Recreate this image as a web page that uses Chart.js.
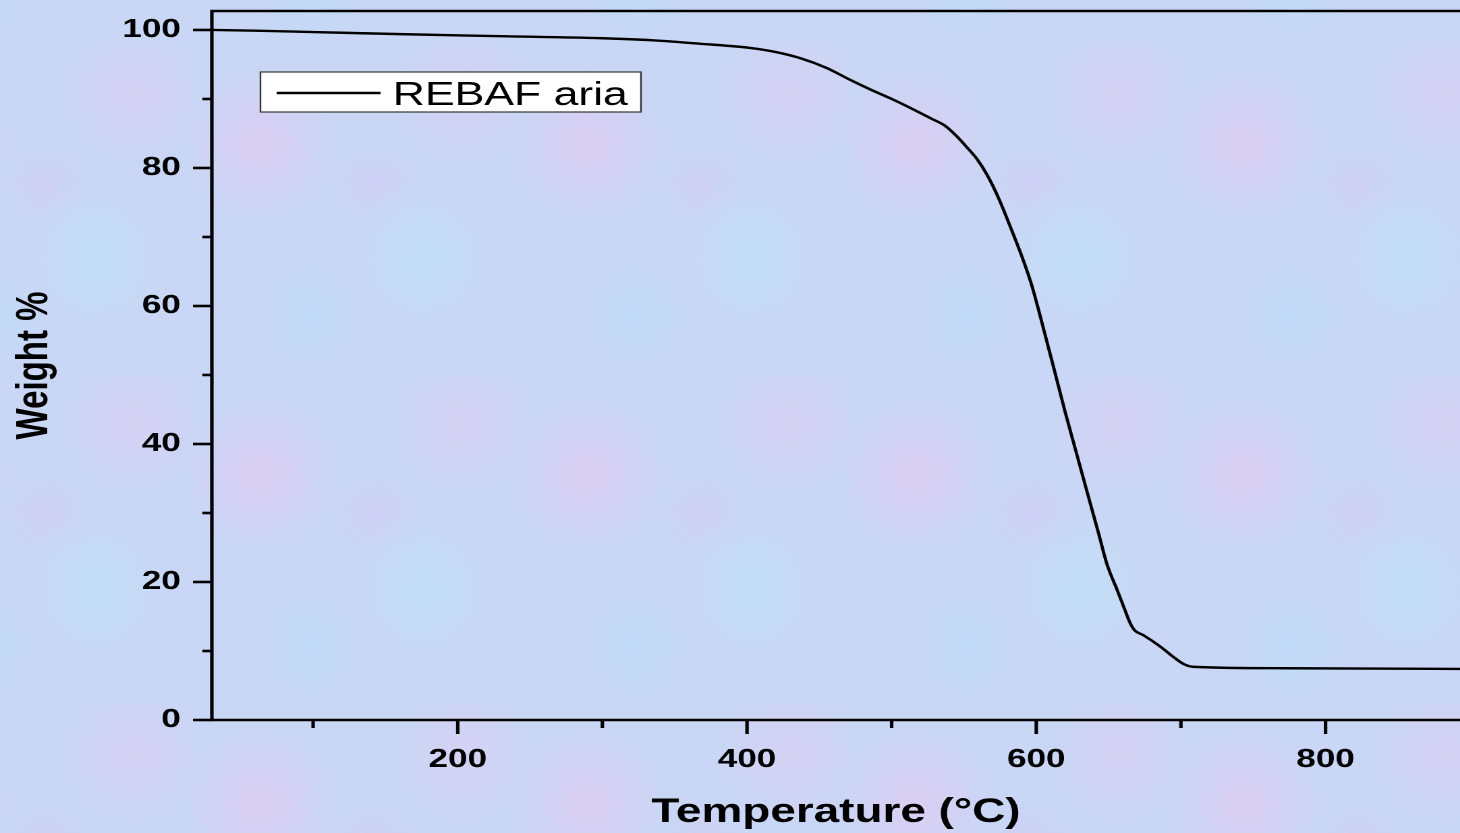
<!DOCTYPE html>
<html>
<head>
<meta charset="utf-8">
<title>TGA - REBAF aria</title>
<script src="https://cdn.jsdelivr.net/npm/chart.js"></script>
<style>
    html, body { margin: 0; padding: 0; overflow: hidden; }
    body {
        width: 1460px;
        height: 833px;
        background-color: #c9d6f5;
        background-image:
            radial-gradient(circle at 20% 30%, rgba(234, 200, 240, 0.55) 0, rgba(234, 200, 240, 0) 22%),
            radial-gradient(circle at 70% 65%, rgba(190, 230, 248, 0.6) 0, rgba(190, 230, 248, 0) 25%),
            radial-gradient(circle at 82% 15%, rgba(230, 204, 242, 0.45) 0, rgba(230, 204, 242, 0) 18%),
            radial-gradient(circle at 35% 82%, rgba(186, 224, 250, 0.55) 0, rgba(186, 224, 250, 0) 20%),
            radial-gradient(circle at 55% 42%, rgba(214, 204, 246, 0.5) 0, rgba(214, 204, 246, 0) 15%);
        background-size: 328px 330px;
        background-position: 194px 45px;
    }
    /* the source picture is stretched sideways, so the chart is drawn narrow and widened */
    #wrap { width: 1082px; height: 833px; transform: scaleX(1.3494); transform-origin: 0 0; }
</style>
</head>
<body>
<div id="wrap">
    <canvas id="tga" width="1082" height="833"></canvas>
</div>

<script>
    // data
    const seriesLabel = 'REBAF aria';
    const temperature = [30, 60, 100, 160, 230, 300, 335, 368, 402, 420, 437, 455, 471, 485, 499,
        513, 527, 537, 545, 552, 559, 566, 574, 582, 590, 597, 604, 612, 620, 628,
        636, 643, 649, 656, 661, 665, 668, 674, 686, 695, 702, 709, 771, 893];
    const weight = [100.0, 99.9, 99.7, 99.4, 99.1, 98.8, 98.5, 98.0, 97.4, 96.8, 95.9, 94.5, 92.8, 91.4, 90.1,
        88.7, 87.2, 86.1, 84.6, 83.0, 81.3, 79.0, 75.6, 71.5, 67.2, 62.9, 57.5, 51.1, 44.6, 38.5,
        32.4, 27.1, 22.5, 18.8, 16.1, 14.0, 13.0, 12.3, 10.6, 9.1, 8.1, 7.7, 7.5, 7.4];
    const xTickValues = [100, 200, 300, 400, 500, 600, 700, 800];
    const yTickValues = [0, 10, 20, 30, 40, 50, 60, 70, 80, 90, 100];

    const points = temperature.map((t, i) => ({ x: t, y: weight[i] }));
    const fontFamily = '"Liberation Sans", Arial, sans-serif';

    // frame, tick marks and legend box
    const framePlugin = {
        id: 'frame',
        afterDraw(chart) {
            const { ctx, chartArea: a, scales: { x, y } } = chart;
            ctx.save();
            ctx.strokeStyle = '#000';
            ctx.lineWidth = 2.6;

            ctx.beginPath();
            ctx.moveTo(a.right + 2, a.top);
            ctx.lineTo(a.left, a.top);
            ctx.lineTo(a.left, a.bottom);
            ctx.lineTo(a.right + 2, a.bottom);
            ctx.stroke();

            yTickValues.forEach(v => {
                const py = y.getPixelForValue(v);
                const len = v % 20 === 0 ? 14 : 7;
                ctx.beginPath();
                ctx.moveTo(a.left - len, py);
                ctx.lineTo(a.left, py);
                ctx.stroke();
            });
            xTickValues.forEach(v => {
                const px = x.getPixelForValue(v);
                const len = v % 200 === 0 ? 14 : 8;
                ctx.beginPath();
                ctx.moveTo(px, a.bottom);
                ctx.lineTo(px, a.bottom + len);
                ctx.stroke();
            });

            // legend
            ctx.fillStyle = '#fff';
            ctx.fillRect(193, 72, 282, 40);
            ctx.lineWidth = 1.2;
            ctx.strokeStyle = '#333';
            ctx.strokeRect(193, 72, 282, 40);
            ctx.lineWidth = 2.6;
            ctx.strokeStyle = '#000';
            ctx.beginPath();
            ctx.moveTo(205, 93);
            ctx.lineTo(282, 93);
            ctx.stroke();
            ctx.fillStyle = '#000';
            ctx.font = '33px ' + fontFamily;
            ctx.textBaseline = 'alphabetic';
            ctx.fillText(chart.data.datasets[0].label, 291, 105);
            ctx.restore();
        }
    };

    const ctx = document.getElementById('tga').getContext('2d');
    new Chart(ctx, {
        type: 'line',
        data: {
            datasets: [{
                label: seriesLabel,
                data: points,
                borderColor: '#000',
                borderWidth: 2.4,
                pointRadius: 0,
                fill: false,
                cubicInterpolationMode: 'monotone'
            }]
        },
        options: {
            responsive: false,
            animation: false,
            devicePixelRatio: 2,
            layout: { padding: { top: 11, right: 0, bottom: 0, left: 0 } },
            plugins: {
                legend: { display: false },
                tooltip: { enabled: false }
            },
            scales: {
                x: {
                    type: 'linear',
                    min: 30,
                    max: 893,
                    afterFit: s => { s.height = 113; s.paddingLeft = 0; s.paddingRight = 0; },
                    afterBuildTicks: s => { s.ticks = xTickValues.map(v => ({ value: v })); },
                    grid: { display: false, drawTicks: false },
                    border: { display: false },
                    ticks: {
                        color: '#000',
                        padding: 24,
                        autoSkip: false,
                        maxRotation: 0,
                        font: { family: fontFamily, weight: 'bold', size: 26 },
                        callback: v => (v % 200 === 0 ? v : '')
                    },
                    title: {
                        display: true,
                        text: 'Temperature (°C)',
                        color: '#000',
                        padding: { top: 0, bottom: 0 },
                        font: { family: fontFamily, weight: 'bold', size: 34 }
                    }
                },
                y: {
                    min: 0,
                    max: 102.75,
                    afterFit: s => { s.width = 157; s.paddingTop = 0; s.paddingBottom = 0; },
                    afterBuildTicks: s => { s.ticks = yTickValues.map(v => ({ value: v })); },
                    grid: { display: false, drawTicks: false },
                    border: { display: false },
                    ticks: {
                        color: '#000',
                        padding: 23,
                        font: { family: fontFamily, weight: 'bold', size: 26 },
                        callback: v => (v % 20 === 0 ? v : '')
                    },
                    title: {
                        display: true,
                        text: 'Weight %',
                        color: '#000',
                        padding: { top: 6, bottom: 0 },
                        font: { family: fontFamily, weight: 'bold', size: 33 }
                    }
                }
            }
        },
        plugins: [framePlugin]
    });
</script>
</body>
</html>
